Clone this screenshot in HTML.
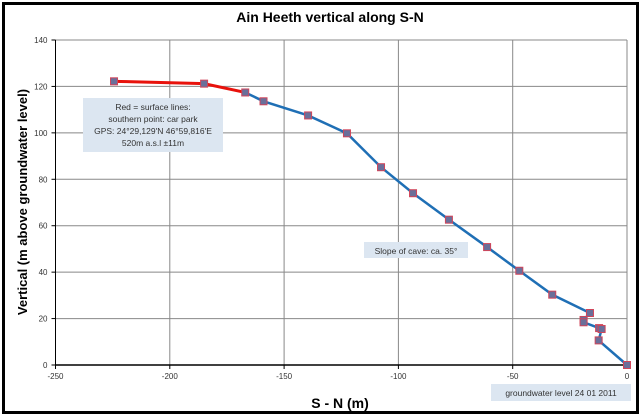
<!DOCTYPE html>
<html><head><meta charset="utf-8"><style>
body{margin:0;background:#fff;}
svg{display:block;font-family:"Liberation Sans",sans-serif;}
</style></head><body>
<svg width="642" height="417" viewBox="0 0 642 417">
<rect x="0" y="0" width="642" height="417" fill="#fff"/>
<rect x="3.5" y="3.5" width="634" height="409" fill="#fff" stroke="#000" stroke-width="3"/>
<text x="330" y="22" text-anchor="middle" font-size="14" font-weight="bold">Ain Heeth vertical along S-N</text>
<g id="grid"></g>
<g id="axes"></g>
<text transform="translate(27,202) rotate(-90)" text-anchor="middle" font-size="13" font-weight="bold">Vertical  (m above groundwater level)</text>
<text x="340" y="408" text-anchor="middle" font-size="14" font-weight="bold">S - N (m)</text>
<g id="series"></g>
<g>
<rect x="83" y="98" width="140" height="54" fill="#dce6f1"/>
<text x="153" y="110" text-anchor="middle" font-size="8.5" fill="#333">Red = surface lines:</text>
<text x="153" y="122" text-anchor="middle" font-size="8.5" fill="#333">southern point: car park</text>
<text x="153" y="134" text-anchor="middle" font-size="8.5" fill="#333">GPS: 24°29,129'N  46°59,816'E</text>
<text x="153" y="146" text-anchor="middle" font-size="8.5" fill="#333">520m a.s.l ±11m</text>
</g>
<g>
<rect x="364" y="242" width="104" height="16" fill="#dce6f1"/>
<text x="416" y="254" text-anchor="middle" font-size="8.5" fill="#333">Slope of cave: ca. 35°</text>
</g>
<g>
<rect x="491" y="384" width="140" height="17" fill="#dce6f1"/>
<text x="561" y="396" text-anchor="middle" font-size="8.5" fill="#333">groundwater level 24 01  2011</text>
</g>
</svg>
<script>
const xTicks=[-250,-200,-150,-100,-50,0];
const yTicks=[0,20,40,60,80,100,120,140];
const redX=[-224.4,-185,-167];
const redY=[122.2,121.2,117.4];
const blueX=[-167,-159,-139.5,-122.5,-107.6,-93.6,-77.9,-61.2,-47.1,-32.7,-16.2,-19,-19,-12.2,-11.1,-12.4,0];
const blueY=[117.4,113.6,107.5,99.8,85.2,74,62.6,50.8,40.6,30.3,22.4,19.4,18.4,15.9,15.5,10.6,0];
const X0=55.5,X1=627,Y0=365,Y1=40;
const sx=v=>X0+(v+250)/250*(X1-X0);
const sy=v=>Y0-v/140*(Y0-Y1);
const NS="http://www.w3.org/2000/svg";
function mk(tag,attrs,parent){const e=document.createElementNS(NS,tag);for(const k in attrs)e.setAttribute(k,attrs[k]);parent.appendChild(e);return e;}
const grid=document.getElementById('grid'),axes=document.getElementById('axes'),series=document.getElementById('series');
yTicks.forEach(t=>{
 if(t>0){const l=mk('line',{x1:X0,x2:X1,y1:sy(t),y2:sy(t),stroke:'#888','stroke-width':1},grid);
 
 }
 mk('line',{x1:X0-4,x2:X0,y1:sy(t),y2:sy(t),stroke:'#000'},axes);
 const tx=mk('text',{x:X0-8,y:sy(t)+3,'text-anchor':'end','font-size':8,fill:'#333'},axes);
 tx.textContent=t;
 
 
});
xTicks.forEach(t=>{
 if(t>-250){const l=mk('line',{x1:sx(t),x2:sx(t),y1:Y1,y2:Y0,stroke:'#888','stroke-width':1},grid);
 
 }
 mk('line',{x1:sx(t),x2:sx(t),y1:Y0,y2:Y0+4,stroke:'#000'},axes);
 const tx=mk('text',{x:sx(t),y:Y0+14,'text-anchor':'middle','font-size':8,fill:'#333'},axes);
 tx.textContent=t;
 
 
});
mk('line',{x1:X0,x2:X0,y1:Y1,y2:Y0,stroke:'#000','stroke-width':1},axes);
mk('line',{x1:X0,x2:X1,y1:Y0,y2:Y0,stroke:'#000','stroke-width':1.5},axes);
const bl=mk('polyline',{points:blueX.map((x,i)=>sx(x)+','+sy(blueY[i])).join(' '),fill:'none',stroke:'#1f6fb5','stroke-width':2.5},series);


const rl=mk('polyline',{points:redX.map((x,i)=>sx(x)+','+sy(redY[i])).join(' '),fill:'none',stroke:'#e8120c','stroke-width':3},series);


function markers(xs,ys){xs.forEach((x,i)=>{const m=mk('rect',{x:sx(x)-3.5,y:sy(ys[i])-3.5,width:7,height:7,fill:'#6a6f9a',stroke:'#d0455a','stroke-width':1},series);
 
 });}
markers(redX,redY);markers(blueX.slice(1),blueY.slice(1));
</script>
</body></html>
